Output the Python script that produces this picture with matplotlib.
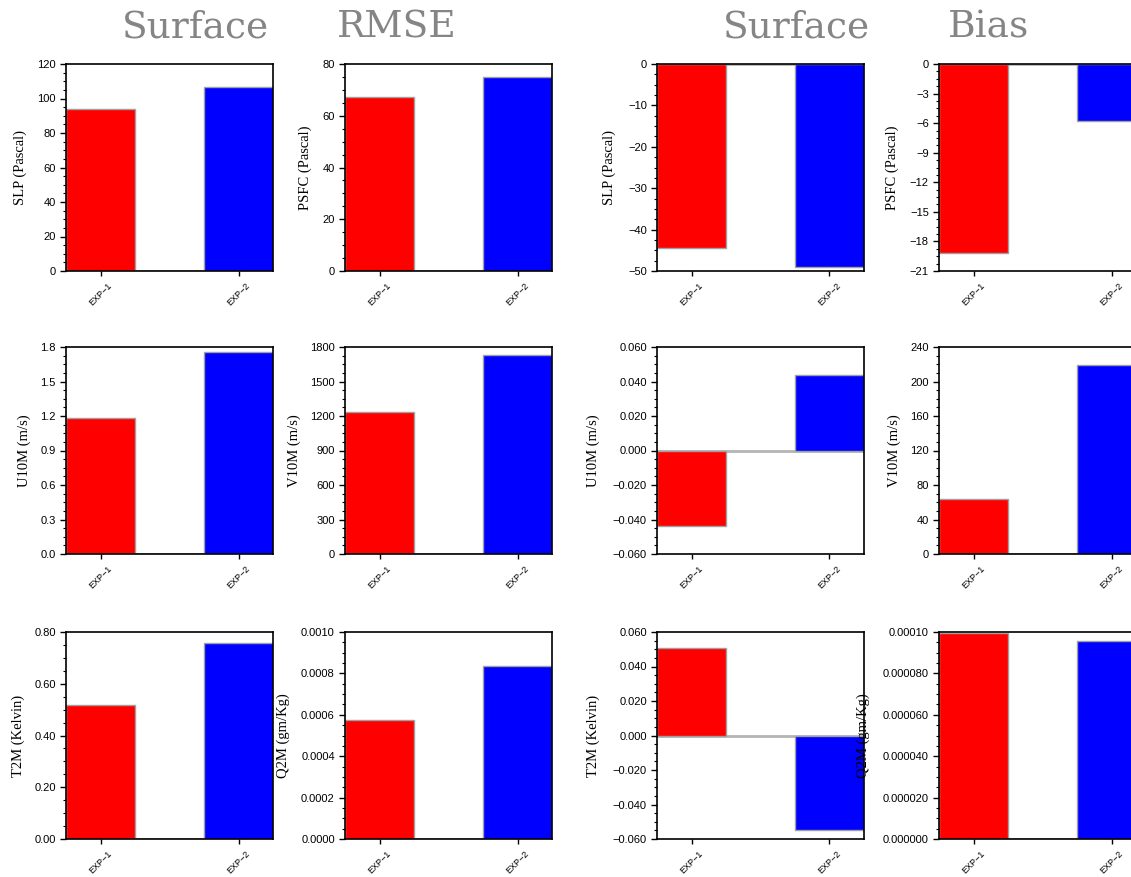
import matplotlib.pyplot as plt
from matplotlib.ticker import AutoMinorLocator, FixedLocator

W, H = 1131, 877

experiments = ["EXP\u22121", "EXP\u22122"]
variables = ["SLP (Pascal)", "PSFC (Pascal)", "U10M (m/s)",
             "V10M (m/s)", "T2M (Kelvin)", "Q2M (gm/Kg)"]

rmse_exp1 = [94.0, 67.2, 1.18, 1232, 0.516, 0.000576]
rmse_exp2 = [106.8, 75.0, 1.756, 1730, 0.759, 0.000838]
bias_exp1 = [-44.4, -19.2, -0.044, 63.5, 0.0505, 0.0000995]
bias_exp2 = [-49.0, -5.8, 0.044, 219, -0.055, 0.0000957]

# y tick labels for each panel (values are parsed from the text)
rmse_yticklabels = [
    ["0", "20", "40", "60", "80", "100", "120"],
    ["0", "20", "40", "60", "80"],
    ["0.0", "0.3", "0.6", "0.9", "1.2", "1.5", "1.8"],
    ["0", "300", "600", "900", "1200", "1500", "1800"],
    ["0.00", "0.20", "0.40", "0.60", "0.80"],
    ["0.0000", "0.0002", "0.0004", "0.0006", "0.0008", "0.0010"],
]
bias_yticklabels = [
    ["\u221250", "\u221240", "\u221230", "\u221220", "\u221210", "0"],
    ["\u221221", "\u221218", "\u221215", "\u221212", "\u22129", "\u22126", "\u22123", "0"],
    ["\u22120.060", "\u22120.040", "\u22120.020", "0.000", "0.020", "0.040", "0.060"],
    ["0", "40", "80", "120", "160", "200", "240"],
    ["\u22120.060", "\u22120.040", "\u22120.020", "0.000", "0.020", "0.040", "0.060"],
    ["0.000000", "0.000020", "0.000040", "0.000060", "0.000080", "0.00010"],
]

titles = [("Surface", 195), ("RMSE", 397), ("Surface", 796), ("Bias", 988)]

# layout in pixels
col_left = [66, 345, 657, 939]
row_top = [64, 347, 632]
size = 207
# y label centre offset (px left of the axes) per panel
rmse_label_off = [[46, 40], [42, 51], [48, 62]]
bias_label_off = [[48, 47], [64, 45], [64, 76]]

bar_colors = ["#ff0000", "#0000ff"]


def to_val(s):
    return float(s.replace("\u2212", "-"))


def draw_panel(ax, v1, v2, labels, ylabel, off):
    vals = [to_val(s) for s in labels]
    ax.axhline(0, color="#b4b4b4", lw=2, zorder=0.5)
    ax.bar([0, 1], [v1, v2], width=0.5, color=bar_colors,
           edgecolor="#a0a0a0", linewidth=1, zorder=1)
    ax.set_xlim(-0.25, 1.25)
    ax.set_ylim(vals[0], vals[-1])
    ax.yaxis.set_major_locator(FixedLocator(vals))
    ax.set_yticklabels(labels, fontsize=8, family="Liberation Sans")
    ax.yaxis.set_minor_locator(AutoMinorLocator(4))
    ax.set_xticks([0, 1])
    ax.set_xticklabels(experiments, rotation=45, ha="center", va="top",
                       fontsize=6.5, family="Liberation Sans")
    ax.tick_params(axis="y", which="major", length=4.3, width=1, pad=3)
    ax.tick_params(axis="y", which="minor", length=2.2, width=0.8)
    ax.tick_params(axis="x", which="major", length=3.5, width=1, pad=4)
    for sp in ax.spines.values():
        sp.set_linewidth(1.2)
        sp.set_zorder(3)
    ax.set_ylabel(ylabel, fontsize=10.5, family="Liberation Serif", va="center")
    ax.yaxis.set_label_coords(-off / size, 0.5)


fig = plt.figure(figsize=(W / 100, H / 100), dpi=100)

for r in range(3):
    for c in range(4):
        k = 2 * r + (c % 2)
        rect = [col_left[c] / W, 1 - (row_top[r] + size) / H, size / W, size / H]
        ax = fig.add_axes(rect)
        if c < 2:
            draw_panel(ax, rmse_exp1[k], rmse_exp2[k], rmse_yticklabels[k],
                       variables[k], rmse_label_off[r][c])
        else:
            draw_panel(ax, bias_exp1[k], bias_exp2[k], bias_yticklabels[k],
                       variables[k], bias_label_off[r][c - 2])

for word, x in titles:
    fig.text(x / W, 1 - 38 / H, word, ha="center", va="baseline",
             fontsize=27, family="DejaVu Serif", color="#858585")

fig.savefig("out.png", dpi=100)
